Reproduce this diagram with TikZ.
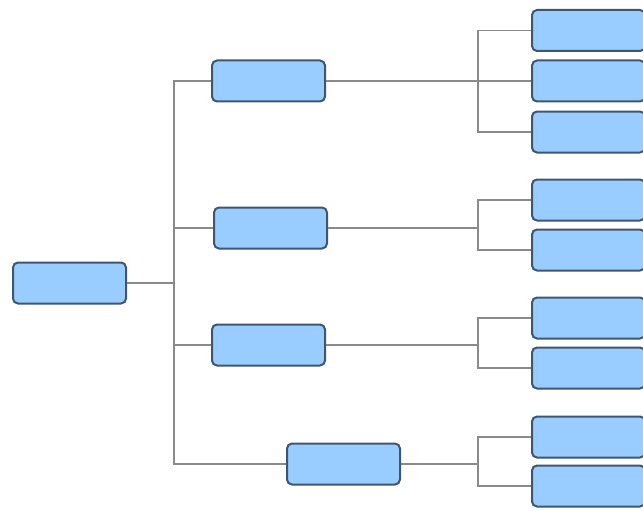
\documentclass[tikz,border=0pt]{standalone}
\begin{document}
\begin{tikzpicture}[x=1pt,y=-1pt,
  box/.style={draw=boxline, fill=boxfill, line width=2pt, rounded corners=5pt,
    minimum width=113pt, minimum height=41pt, inner sep=0pt},
  conn/.style={draw=linegray, line width=1.8pt}]
\definecolor{boxfill}{HTML}{99CCFF}
\definecolor{boxline}{HTML}{3F5670}
\definecolor{linegray}{HTML}{8A8A8A}
\useasboundingbox (0,0) rectangle (643,511);
\clip (0,0) rectangle (643,511);
\node[box] (root) at (69.5,283) {};
\node[box] (n1) at (268.5,81) {};
\node[box] (n2) at (270.5,228) {};
\node[box] (n3) at (268.5,345) {};
\node[box] (n4) at (343.5,464) {};
\node[box] (c1) at (588.5,30.5) {};
\node[box] (c2) at (588.5,81) {};
\node[box] (c3) at (588.5,132) {};
\node[box] (c4) at (588.5,200) {};
\node[box] (c5) at (588.5,250) {};
\node[box] (c6) at (588.5,318) {};
\node[box] (c7) at (588.5,368) {};
\node[box] (c8) at (588.5,437) {};
\node[box] (c9) at (588.5,486) {};
\coordinate (t) at (174,0);
\coordinate (g) at (478,0);
\path[conn] (root.east) -- (root.east -| t);
\path[conn] (n1.west) -- (n1.west -| t) -- (n4.west -| t) -- (n4.west);
\path[conn] (n2.west) -- (n2.west -| t);
\path[conn] (n3.west) -- (n3.west -| t);
\path[conn] (n1.east) -- (c2.west);
\path[conn] (c1.west) -- (c1.west -| g) -- (c3.west -| g) -- (c3.west);
\path[conn] (n2.east) -- (n2.east -| g);
\path[conn] (c4.west) -- (c4.west -| g) -- (c5.west -| g) -- (c5.west);
\path[conn] (n3.east) -- (n3.east -| g);
\path[conn] (c6.west) -- (c6.west -| g) -- (c7.west -| g) -- (c7.west);
\path[conn] (n4.east) -- (n4.east -| g);
\path[conn] (c8.west) -- (c8.west -| g) -- (c9.west -| g) -- (c9.west);
\end{tikzpicture}
\end{document}
